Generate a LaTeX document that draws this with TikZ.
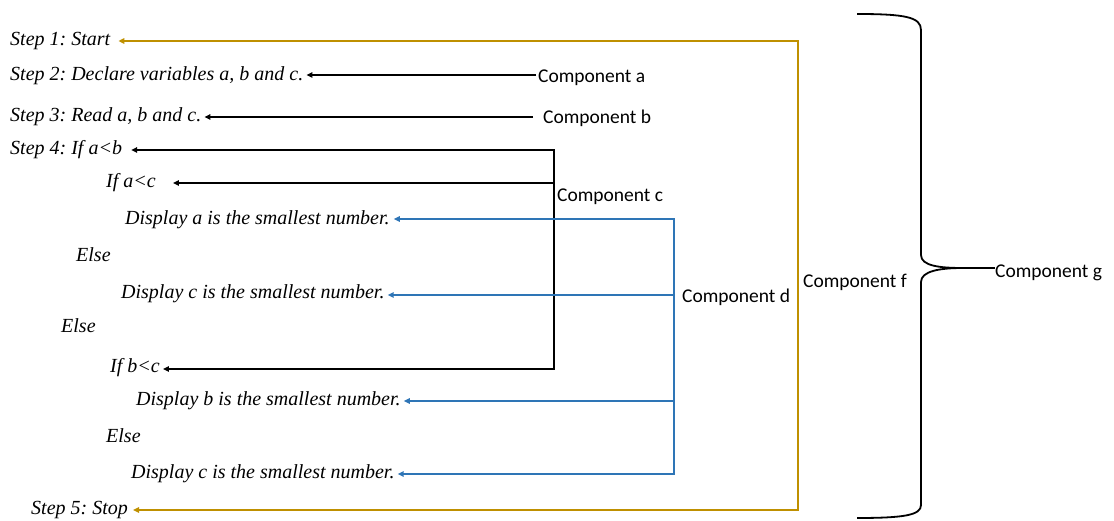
\documentclass[tikz,border=0pt]{standalone}
\usepackage{fontspec}
\setmainfont{Liberation Serif}
\newfontfamily\labelfont{Carlito}
\usetikzlibrary{arrows.meta,calc}
\definecolor{flowgold}{RGB}{191,144,0}
\definecolor{flowblue}{RGB}{46,117,182}
\frenchspacing
\begin{document}
\begin{tikzpicture}[x=1pt,y=-1pt,
  codeline/.style={font=\fontsize{20}{24}\selectfont\itshape\frenchspacing, anchor=base west, inner sep=0pt},
  complabel/.style={font=\labelfont\fontsize{19.5}{23}\selectfont, anchor=base west, inner sep=0pt},
  wire/.style={line width=1.6pt, line join=miter},
  tip/.style={-{Triangle[length=6pt,width=5.5pt]}},
  twotips/.style={{Triangle[length=6pt,width=5.5pt]}-{Triangle[length=6pt,width=5.5pt]}},
  kwire/.style={wire, black},
  bwire/.style={wire, flowblue},
  gwire/.style={wire, flowgold},
]
\useasboundingbox (0,0) rectangle (1114,521);

% pseudo-code lines
\node[codeline] (s1)   at (10,46)   {Step 1: Start};
\node[codeline] (s2)   at (10,81)   {Step 2: Declare variables a, b and c.};
\node[codeline] (s3)   at (10,122)  {Step 3: Read a, b and c.};
\node[codeline] (s4)   at (10,155)  {Step 4: If a<b};
\node[codeline] (ifac) at (106,188) {If a<c};
\node[codeline] (da)   at (125,225) {Display a is the smallest number.};
\node[codeline] (e1)   at (76,262)  {Else};
\node[codeline] (dc)   at (121,299) {Display c is the smallest number.};
\node[codeline] (e2)   at (61,333)  {Else};
\node[codeline] (ifbc) at (110,373) {If b<c};
\node[codeline] (db)   at (136,405) {Display b is the smallest number.};
\node[codeline] (e3)   at (106,442) {Else};
\node[codeline] (dc2)  at (131,478) {Display c is the smallest number.};
\node[codeline] (s5)   at (31,514)  {Step 5: Stop};

% component labels
\node[complabel] (ca) at (538,83)  {Component a};
\node[complabel] (cb) at (543,124) {Component b};
\node[complabel] (cc) at (557,202) {Component c};
\node[complabel] (cd) at (682,303) {Component d};
\node[complabel] (cf) at (803,288) {Component f};
\node[complabel] (cg) at (995,278) {Component g};

% bus corners and wire origins
\coordinate (aStart) at (536,75);
\coordinate (bStart) at (533,117);
\coordinate (cTop)   at (554,150);
\coordinate (cMid)   at (554,183);
\coordinate (cBot)   at (554,369);
\coordinate (dTop)   at (674,219);
\coordinate (dUp)    at (674,295);
\coordinate (dLow)   at (674,401);
\coordinate (dBot)   at (674,474);
\coordinate (fTop)   at (798,41);
\coordinate (fBot)   at (798,510);

% component a and b
\draw[kwire,tip] (aStart) -- ($(s2.east |- aStart)+(3,0)$);
\draw[kwire,tip] (bStart) -- ($(s3.east |- bStart)+(3,0)$);

% component c
\draw[kwire,twotips] ($(s4.east |- cTop)+(9,0)$) -- (cTop) -- (cBot) -- ($(ifbc.east |- cBot)+(3,0)$);
\draw[kwire,tip] (cMid) -- ($(ifac.east |- cMid)+(17,0)$);

% component d
\draw[bwire,twotips] ($(da.east |- dTop)+(4,0)$) -- (dTop) -- (dBot) -- ($(dc2.east |- dBot)+(3,0)$);
\draw[bwire,tip] (dUp) -- ($(dc.east |- dUp)+(3,0)$);
\draw[bwire,tip] (dLow) -- ($(db.east |- dLow)+(3,0)$);

% component f
\draw[gwire,twotips] ($(s1.east |- fTop)+(8,0)$) -- (fTop) -- (fBot) -- ($(s5.east |- fBot)+(5,0)$);

% component g: brace around the whole algorithm
\coordinate (brTop) at (857,14);
\coordinate (brBot) at (857,518);
\coordinate (brTip) at (963,268);
\draw[line width=1.8pt]
  (brTop) .. controls (905,14) and (921,17) .. (921,30)
  -- (921,255) .. controls (921,266) and (940,268) .. (brTip)
  .. controls (940,268) and (921,271) .. (921,282)
  -- (921,505) .. controls (921,515) and (905,518) .. (brBot);
\draw[line width=1.6pt] (brTip) -- (cg.west |- brTip);
\end{tikzpicture}
\end{document}
